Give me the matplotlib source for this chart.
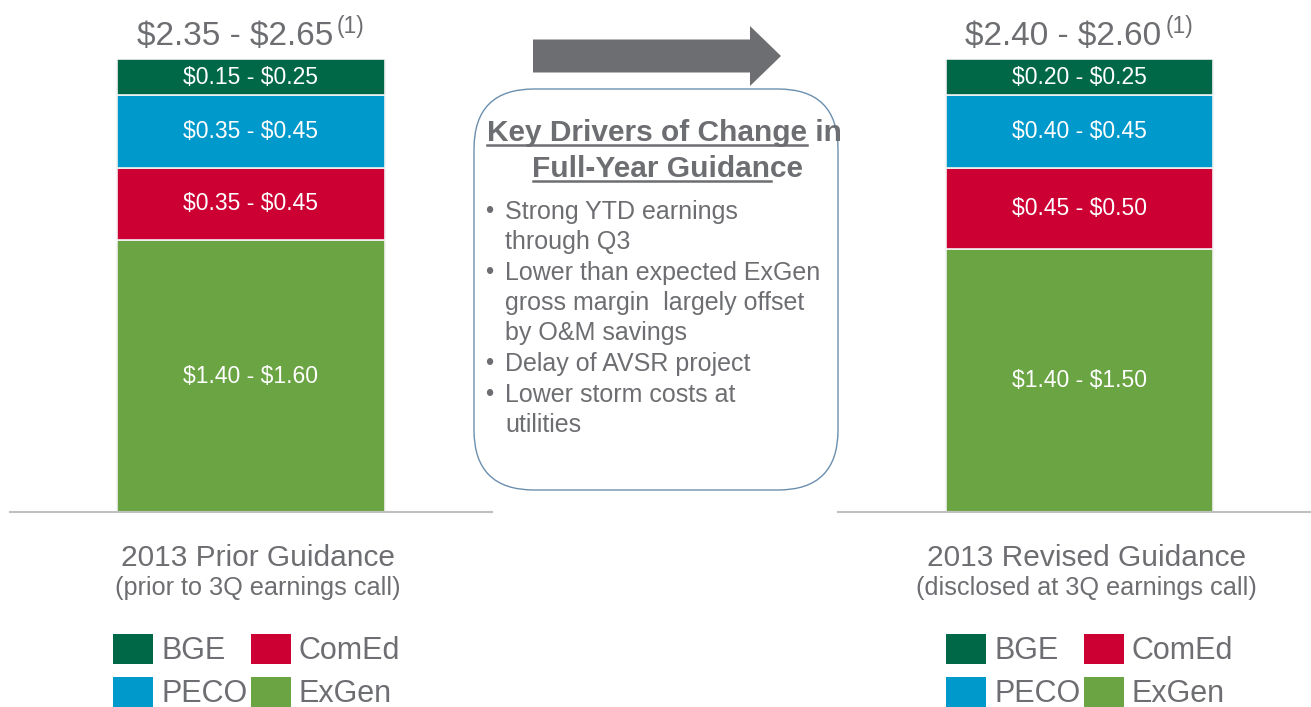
#!/usr/bin/env python3
"""
plot.py -- 2013 guidance: prior vs revised (stacked by segment)
"""

import matplotlib
matplotlib.use('Agg')
import matplotlib.pyplot as plt
from matplotlib.patches import FancyArrow, FancyBboxPatch, Patch
from matplotlib.lines import Line2D

# ------------------------------------------------------------------------------
# Data
# ------------------------------------------------------------------------------
segments = ['ExGen', 'ComEd', 'PECO', 'BGE']          # bottom -> top
seg_colors = {'BGE': '#006847', 'PECO': '#0099cc',
              'ComEd': '#cc0033', 'ExGen': '#6aa443'}

prior_vals   = [1.50, 0.40, 0.40, 0.20]
prior_labels = ['$1.40 - $1.60', '$0.35 - $0.45', '$0.35 - $0.45', '$0.15 - $0.25']
revised_vals   = [1.45, 0.45, 0.40, 0.20]
revised_labels = ['$1.40 - $1.50', '$0.45 - $0.50', '$0.40 - $0.45', '$0.20 - $0.25']

totals     = ['$2.35 - $2.65', '$2.40 - $2.60']
categories = ['2013 Prior Guidance', '2013 Revised Guidance']
subtitles  = ['(prior to 3Q earnings call)', '(disclosed at 3Q earnings call)']

box_title = ['Key Drivers of Change in', 'Full-Year Guidance']
bullets = ['Strong YTD earnings\nthrough Q3',
           'Lower than expected ExGen\ngross margin  largely offset\nby O&M savings',
           'Delay of AVSR project',
           'Lower storm costs at\nutilities']

GRAY = '#6d6e71'
W, H = 1311, 707

plt.rcParams['font.family'] = ['Liberation Sans', 'DejaVu Sans']
plt.rcParams['text.parse_math'] = False

fig = plt.figure(figsize=(W / 100, H / 100), dpi=100)


def px_axes(x0, x1, y_top, y_bot):
    return fig.add_axes([x0 / W, 1 - y_bot / H, (x1 - x0) / W, (y_bot - y_top) / H])


def draw_bar(ax, xc, width, vals, labels, total, cat, sub, legend_xy):
    bottom = 0.0
    for seg, v, lab in zip(segments, vals, labels):
        ax.bar(xc, v, width=width, bottom=bottom, color=seg_colors[seg],
               edgecolor='#f2f2f2', linewidth=1.2)
        ax.text(xc, bottom + v / 2, lab, ha='center', va='center',
                color='white', fontsize=16.5)
        bottom += v
    ax.set_xlim(-0.5, 0.5)
    ax.set_ylim(0, bottom)
    for s in ['top', 'left', 'right']:
        ax.spines[s].set_visible(False)
    ax.spines['bottom'].set_color('#c0c0c0')
    ax.spines['bottom'].set_linewidth(1.5)
    ax.set_xticks([])
    ax.set_yticks([])
    ax.patch.set_alpha(0)

    # total range above the bar with footnote marker
    ax.annotate(total, xy=(xc, bottom), xytext=(59, 10), textcoords='offset points',
                ha='right', va='baseline', fontsize=24, color=GRAY,
                annotation_clip=False)
    ax.annotate('(1)', xy=(xc, bottom), xytext=(62, 19), textcoords='offset points',
                ha='left', va='baseline', fontsize=16.5, color=GRAY,
                annotation_clip=False)

    # category labels under the baseline
    ax.annotate(cat, xy=(xc, 0), xytext=(5, -33), textcoords='offset points',
                ha='center', va='center', fontsize=21.5, color=GRAY,
                annotation_clip=False)
    ax.annotate(sub, xy=(xc, 0), xytext=(5, -55), textcoords='offset points',
                ha='center', va='center', fontsize=18.2, color=GRAY,
                annotation_clip=False)

    order = ['BGE', 'PECO', 'ComEd', 'ExGen']
    handles = [Patch(facecolor=seg_colors[s], edgecolor='none') for s in order]
    leg = fig.legend(handles, order, loc='upper left',
                     bbox_to_anchor=(legend_xy[0] / W, 1 - legend_xy[1] / H),
                     ncol=2, frameon=False, fontsize=22, labelcolor=GRAY,
                     handlelength=1.31, handleheight=1.13, handletextpad=0.27,
                     columnspacing=0.1, labelspacing=0.35, borderpad=0,
                     borderaxespad=0)
    return leg


ax1 = px_axes(10, 492, 59, 512)
draw_bar(ax1, 0.0, 0.554, prior_vals, prior_labels, totals[0],
         categories[0], subtitles[0], (113, 634))

ax2 = px_axes(838, 1311, 59, 512)
draw_bar(ax2, 0.01, 0.564, revised_vals, revised_labels, totals[1],
         categories[1], subtitles[1], (946, 634))

# ------------------------------------------------------------------------------
# Middle panel: arrow + rounded box with key drivers
# ------------------------------------------------------------------------------
ov = fig.add_axes([0, 0, 1, 1])
ov.set_xlim(0, W)
ov.set_ylim(H, 0)
ov.axis('off')
ov.patch.set_alpha(0)

ov.add_patch(FancyArrow(533, 56, 248, 0, width=33, head_width=60, head_length=31,
                        length_includes_head=True, color=GRAY, lw=0))

ov.add_patch(FancyBboxPatch((474, 89), 364, 401,
                            boxstyle='round,pad=0,rounding_size=60',
                            facecolor='none', edgecolor='#6b8fae', linewidth=1.0))

t1 = ov.text(664, 133, box_title[0], ha='center', va='center',
             fontsize=21.5, fontweight='bold', color=GRAY)
t2 = ov.text(668, 169, box_title[1], ha='center', va='center',
             fontsize=21.5, fontweight='bold', color=GRAY)

# underline the heading (the slide underlines only part of each line)
fig.canvas.draw()
renderer = fig.canvas.get_renderer()
inv = ov.transData.inverted()
for t, part in [(t1, 'Key Drivers of Change'), (t2, 'Full-Year Guidan')]:
    bb = t.get_window_extent(renderer)
    probe = ov.text(0, 0, part, fontsize=21.5, fontweight='bold')
    pw = probe.get_window_extent(renderer).width
    probe.remove()
    (x0, y0) = inv.transform((bb.x0, bb.y0))
    (x1, _) = inv.transform((bb.x0 + pw, bb.y0))
    ov.add_line(Line2D([x0, x1], [y0 - 2, y0 - 2], color=GRAY, lw=1.8))

y = 212
for b in bullets:
    lines = b.split('\n')
    ov.text(485, y, '\u2022', ha='left', va='center', fontsize=17, color=GRAY)
    for ln in lines:
        ov.text(505, y, ln, ha='left', va='center', fontsize=18, color=GRAY)
        y += 30
    y += 1

fig.savefig('out.png', dpi=100)
